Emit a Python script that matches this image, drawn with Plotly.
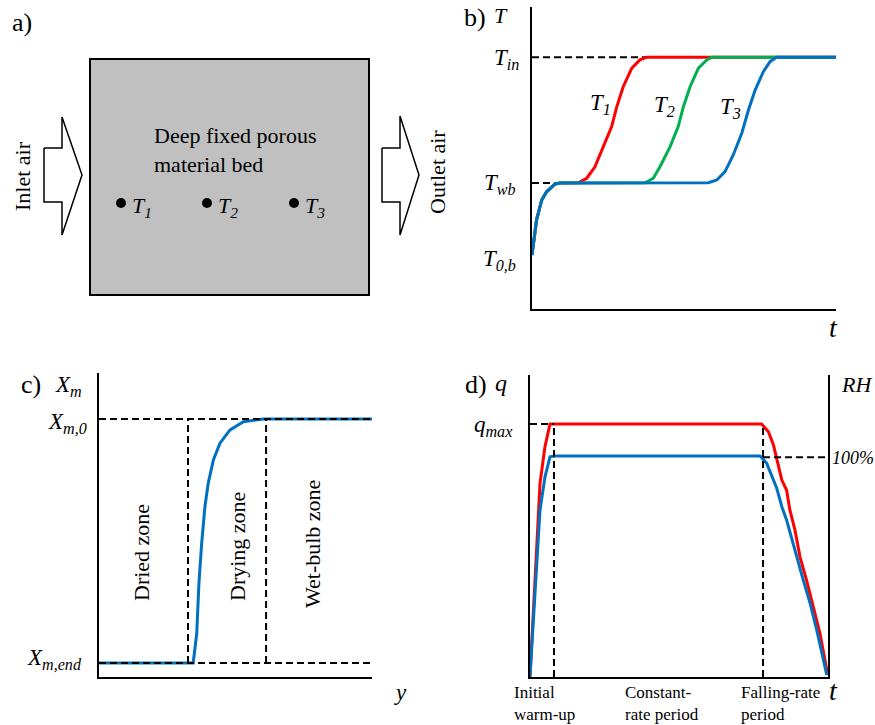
import plotly.graph_objects as go

W, H = 875, 725
FONT = "Liberation Serif"
RED, GREEN, BLUE = "#FF0000", "#00B050", "#0070C0"

# ---------------- data ----------------
# panel b: temperatures vs time (schematic units 0-100)
T_in, T_wb, T_0b = 83.4, 41.7, 17.9
t_warm = [0.0, 1.5, 3.2, 4.8, 7.6, 9.2]
T_warm = [17.9, 29.5, 36.1, 38.8, 41.4, 41.7]
t1 = [15.2, 18.0, 20.7, 23.5, 26.2, 27.9, 30.0, 32.8, 35.5, 37.7, 100]
T1 = [41.8, 43.3, 47.1, 53.7, 60.4, 67.0, 73.6, 79.7, 82.5, 83.4, 83.4]
t2 = [37.2, 39.9, 42.1, 45.4, 48.1, 49.8, 52.0, 54.7, 57.5, 59.1, 100]
T2 = [41.8, 43.3, 47.1, 53.7, 60.4, 67.0, 73.6, 79.7, 82.5, 83.4, 83.4]
t3 = [58.0, 60.8, 63.5, 66.2, 69.0, 71.2, 73.4, 76.1, 78.3, 80.5, 100]
T3 = [41.8, 42.7, 45.5, 51.0, 58.2, 65.9, 72.5, 78.6, 81.9, 83.4, 83.4]

# panel c: moisture content vs bed height
Xm_0, Xm_end = 84.9, 4.6
y_dry_edge, y_wet_edge = 32.6, 61.2
yc = [0, 34.5, 35.8, 36.6, 37.6, 38.8, 40.0, 41.9, 44.3, 48.0, 52.9, 60.2, 100]
Xm = [4.6, 4.6, 14.3, 30.8, 43.9, 56.0, 63.7, 71.4, 76.9, 81.3, 84.0, 84.9, 84.9]

# panel d: drying rate q and RH vs time
q_max, RH_100 = 83.8, 72.8
t_warm_end, t_fall_start = 8.05, 78.2
td_q = [0, 1.68, 3.36, 5.03, 6.71, 77.7, 80.0, 81.7, 83.3, 84.5, 86.1, 87.2, 88.9, 90.6, 92.8, 95.1, 97.3, 99.9]
q = [0.1, 31.0, 64.1, 76.3, 83.8, 83.8, 81.2, 76.8, 70.2, 65.2, 61.9, 55.3, 48.7, 39.8, 32.1, 23.3, 14.5, 0.7]
td_rh = [0, 1.68, 3.36, 5.03, 6.71, 8.39, 77.2, 79.4, 81.1, 82.8, 84.5, 86.1, 87.2, 88.9, 90.0, 91.7, 94.0, 96.2, 99.6]
RH = [0.1, 28.8, 55.3, 66.3, 72.9, 73.2, 73.2, 70.8, 66.9, 62.5, 56.4, 52.0, 48.1, 42.1, 37.6, 32.1, 24.4, 15.6, 0.7]

# panel a: schematic (pixel-like units)
sensor_x = [121, 207, 294]
sensor_y = [203, 203, 203]
sensor_labels = ["T<sub>1</sub>", "T<sub>2</sub>", "T<sub>3</sub>"]
bed_box = dict(x0=90, x1=369, y0=59, y1=295)
inlet_x = [44, 62, 62, 82, 62, 62, 44, 44]
inlet_y = [148, 148, 117, 175, 235, 202, 202, 148]
outlet_x = [382, 400, 400, 419, 400, 400, 382, 382]
outlet_y = [148, 148, 116, 175, 235, 202, 202, 148]


def px(x, y):
    return x / W, 1 - y / H


fig = go.Figure()


def dom(x0, x1, y0, y1):
    # pixel box -> paper domains
    return [x0 / W, x1 / W], [1 - y1 / H, 1 - y0 / H]


axes = {
    "a": (dom(0, 440, 0, 350), [0, 440], [350, 0]),
    "b": (dom(532, 836, 7, 309), [0, 100], [0, 100]),
    "c": (dom(99, 372, 373, 677), [0, 100], [0, 100]),
    "d": (dom(530, 828, 375, 677), [0, 100], [0, 100]),
}
ids = {"a": "", "b": "2", "c": "3", "d": "4"}
layout_axes = {}
for k, ((xd, yd), xr, yr) in axes.items():
    i = ids[k]
    show = k != "a"
    layout_axes["xaxis" + i] = dict(domain=xd, range=xr, anchor="y" + i, showgrid=False,
                                    zeroline=False, showticklabels=False, ticks="",
                                    showline=show, linecolor="black", linewidth=2)
    layout_axes["yaxis" + i] = dict(domain=yd, range=yr, anchor="x" + i, showgrid=False,
                                    zeroline=False, showticklabels=False, ticks="",
                                    showline=show, linecolor="black", linewidth=2,
                                    mirror=(k == "d"))
fig.update_layout(**layout_axes)


def line(x, y, ax, color, width=3, dash=None):
    i = ids[ax]
    fig.add_trace(go.Scatter(x=x, y=y, mode="lines", xaxis="x" + i, yaxis="y" + i,
                             line=dict(color=color, width=width, dash=dash),
                             showlegend=False, hoverinfo="skip"))


DASH = "7px,4px"

# ---- panel a ----
fig.add_shape(type="rect", xref="x", yref="y", line=dict(color="black", width=2),
              fillcolor="#C0C0C0", layer="below", **bed_box)
for xs, ys in [(inlet_x, inlet_y), (outlet_x, outlet_y)]:
    fig.add_trace(go.Scatter(x=xs, y=ys, mode="lines", fill="toself", fillcolor="white",
                             line=dict(color="black", width=1.5), xaxis="x", yaxis="y",
                             showlegend=False, hoverinfo="skip"))
fig.add_trace(go.Scatter(x=sensor_x, y=sensor_y, mode="markers", xaxis="x", yaxis="y",
                         marker=dict(color="black", size=10), showlegend=False, hoverinfo="skip"))

# ---- panel b ----
line([0, t1[-2]], [T_in, T_in], "b", "black", 2, DASH)
line([0, t_warm[-2]], [T_wb, T_wb], "b", "black", 2, DASH)
line(t_warm + t1, T_warm + T1, "b", RED)
line(t_warm + t2, T_warm + T2, "b", GREEN)
line(t_warm + t3, T_warm + T3, "b", BLUE)

# ---- panel c ----
line(yc, Xm, "c", BLUE)
line([0, 100], [Xm_0, Xm_0], "c", "black", 2, DASH)
line([0, 100], [Xm_end, Xm_end], "c", "black", 2, DASH)
line([y_dry_edge, y_dry_edge], [Xm_end, Xm_0], "c", "black", 2, DASH)
line([y_wet_edge, y_wet_edge], [Xm_end, Xm_0], "c", "black", 2, DASH)

# ---- panel d ----
line(td_q, q, "d", RED)
line(td_rh, RH, "d", BLUE)
line([0, t_warm_end], [q_max, q_max], "d", "black", 2, DASH)
line([t_warm_end, t_warm_end], [0, q_max], "d", "black", 2, DASH)
line([t_fall_start, t_fall_start], [0, q_max], "d", "black", 2, DASH)
line([t_fall_start, 100], [RH_100, RH_100], "d", "black", 2, DASH)

# ---------------- text ----------------
ann = []


def txt(text, x, y, size=22, xanchor="center", yanchor="middle", angle=0, align="center"):
    xp, yp = px(x, y)
    ann.append(dict(text=text, x=xp, y=yp, xref="paper", yref="paper", showarrow=False,
                    xanchor=xanchor, yanchor=yanchor, textangle=angle, align=align,
                    font=dict(family=FONT, size=size, color="black")))


txt("a)", 22, 22, 26)
txt("Deep fixed porous<br>material bed", 152, 150, 22, xanchor="left", align="left")
txt("Inlet air", 23, 176, 22, angle=-90)
txt("Outlet air", 437, 172, 22, angle=-90)
for sx, sy, lab in zip(sensor_x, sensor_y, sensor_labels):
    txt("<i>" + lab + "</i>", sx + 9, sy + 4, 22, xanchor="left")

txt("b)", 475, 17, 26)
txt("<i>T</i>", 501, 16, 22)
txt("<i>T<sub>in</sub></i>", 521, 59, 23, xanchor="right")
txt("<i>T<sub>wb</sub></i>", 518, 184, 23, xanchor="right")
txt("<i>T<sub>0,b</sub></i>", 518, 260, 23, xanchor="right")
txt("<i>t</i>", 833, 327, 28)
txt("<i>T<sub>1</sub></i>", 600, 104, 23)
txt("<i>T<sub>2</sub></i>", 664, 106, 23)
txt("<i>T<sub>3</sub></i>", 730, 108, 23)

txt("c)", 31, 384, 26)
txt("<i>X<sub>m</sub></i>", 68, 386, 23)
txt("<i>X<sub>m,0</sub></i>", 89, 423, 23, xanchor="right")
txt("<i>X<sub>m,end</sub></i>", 84, 659, 23, xanchor="right")
txt("<i>y</i>", 400, 692, 23)
txt("Dried zone", 141, 553, 22, angle=-90)
txt("Drying zone", 237, 547, 22, angle=-90)
txt("Wet-bulb zone", 312, 544, 22, angle=-90)

txt("d)", 476, 385, 26)
txt("<i>q</i>", 501, 383, 24)
txt("<i>q<sub>max</sub></i>", 515, 426, 23, xanchor="right")
txt("<i>RH</i>", 856, 384, 22)
txt("<i>100%</i>", 830, 458, 18, xanchor="left")
txt("<i>t</i>", 833, 690, 28)
txt("Initial<br>warm-up", 512, 703, 17, xanchor="left", align="left")
txt("Constant-<br>rate period", 623, 703, 17, xanchor="left", align="left")
txt("Falling-rate<br>period", 739, 703, 17, xanchor="left", align="left")

fig.update_layout(width=W, height=H, margin=dict(l=0, r=0, t=0, b=0),
                  paper_bgcolor="white", plot_bgcolor="rgba(0,0,0,0)",
                  annotations=ann, showlegend=False)
fig.write_html("out.html", config={"displayModeBar": False},
               post_script="document.body.style.margin='0';document.body.style.overflow='hidden';")
